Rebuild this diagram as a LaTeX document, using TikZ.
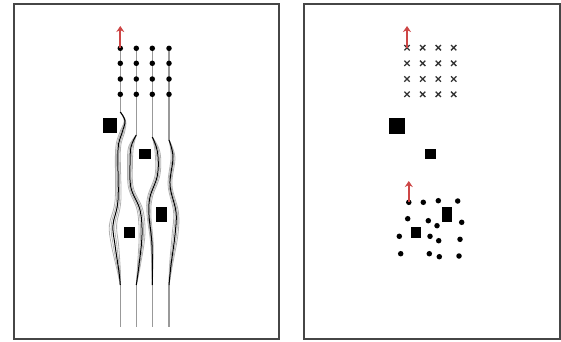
\documentclass[tikz,border=0pt]{standalone}
\usetikzlibrary{arrows.meta,shapes.misc}
\definecolor{arrowred}{RGB}{205,70,70}
\definecolor{framegray}{RGB}{70,70,70}
\tikzset{
  panel/.style={draw=framegray, line width=1.2pt},
  dot/.style={circle, fill=black, inner sep=0pt, minimum size=5.5pt},
  xmark/.style={cross out, draw=black!80, line width=1.3pt, inner sep=0pt, minimum size=4pt},
  obst/.style={rectangle, fill=black, inner sep=0pt},
  startarrow/.style={arrowred, line width=1.8pt, -{Stealth[length=6pt,width=8pt]}},
  track/.style={gray!60, line width=0.8pt},
  rail/.style={gray!80, line width=1.1pt},
}
\begin{document}
\begin{tikzpicture}[x=1pt, y=-1pt]
  \useasboundingbox (0,0) rectangle (561,341);
  % ---------------- left panel: flow through the obstacles ----------------
  \draw[panel] (14,4) rectangle (279,339);
  \foreach \c/\x/\ys in {1/120.3/112, 2/136.3/135, 3/152.3/137, 4/169/140} {
    \coordinate (end-\c) at (\x,327);
    \draw[rail] (\x,48.3) -- (\x,\ys);
    \draw[rail] (\x,285) -- (end-\c);
  }
  \foreach \o in {-2.4,-1.2,1.2,2.4} {
    \draw[track] plot[smooth, tension=0.6] coordinates {(120.3,112) ({125+0.3*\o},121) ({122+\o},133) ({118+\o},150) ({118+1.2*\o},200) ({113+1.5*\o},225) ({115+1.5*\o},245) ({119+0.6*\o},272) (120.3,285)};
    \draw[track] plot[smooth, tension=0.6] coordinates {(136.3,135) ({131+\o},147) ({130+\o},165) ({131+\o},188) ({140+1.2*\o},210) ({142+1.2*\o},235) ({139+0.6*\o},265) (136.3,285)};
    \draw[track] plot[smooth, tension=0.6] coordinates {(152.3,137) ({157.5+\o},152) ({157.5+\o},175) ({150+\o},197) ({149+0.8*\o},215) ({152+0.5*\o},245) (152.3,285)};
    \draw[track] plot[smooth, tension=0.6] coordinates {(169,140) ({173+0.8*\o},157) ({170+0.8*\o},185) ({176+\o},212) ({175+1.2*\o},235) ({171+0.6*\o},265) (169,285)};
  }
  % darkest track of each bundle
  \draw[black, line width=1pt] plot[smooth, tension=0.6] coordinates {(120.3,112) (125,121) (122,133) (118,150) (118,200) (113,225) (115,245) (119,272) (120.3,285)};
  \draw[black, line width=1pt] plot[smooth, tension=0.6] coordinates {(136.3,135) (131,147) (130,165) (131,188) (140,210) (142,235) (139,265) (136.3,285)};
  \draw[black, line width=1pt] plot[smooth, tension=0.6] coordinates {(152.3,137) (157.5,152) (157.5,175) (150,197) (149,215) (152,245) (152.3,285)};
  \draw[black, line width=1pt] plot[smooth, tension=0.6] coordinates {(169,140) (173,157) (170,185) (176,212) (175,235) (171,265) (169,285)};
  % seeds
  \foreach \r/\y in {1/48.3, 2/63.3, 3/79, 4/94.3}
    \foreach \c/\x in {1/120.3, 2/136.3, 3/152.3, 4/169}
      \node[dot] (p-\r-\c) at (\x,\y) {};
  \coordinate (tip-l) at (120.3,26);
  \draw[startarrow] (p-1-1.center) -- (tip-l);
  % obstacles
  \node[obst, minimum width=14.6pt, minimum height=15pt] (ob-a) at (110,125.5) {};
  \node[obst, minimum width=12pt, minimum height=10pt] (ob-b) at (145,154) {};
  \node[obst, minimum width=11pt, minimum height=15pt] (ob-c) at (161.5,214.5) {};
  \node[obst, minimum width=11pt, minimum height=11pt] (ob-d) at (129.5,232.5) {};
  % ---------------- right panel: seeds, obstacles, scattered points ----------------
  \draw[panel] (304,4) rectangle (560,339);
  \foreach \r/\y in {1/47.7, 2/63.3, 3/79, 4/94.3}
    \foreach \c/\x in {1/407, 2/422.7, 3/438.3, 4/453.7}
      \node[xmark] (x-\r-\c) at (\x,\y) {};
  \coordinate (tip-r) at (407,26);
  \draw[startarrow] (x-1-1.center) -- (tip-r);
  \node[obst, minimum width=15.4pt, minimum height=16pt] (ob-e) at (397,126) {};
  \node[obst, minimum width=11.3pt, minimum height=10.3pt] (ob-f) at (430.7,154.2) {};
  \node[obst, minimum width=10.3pt, minimum height=15pt] (ob-g) at (446.8,214.2) {};
  \node[obst, minimum width=10.3pt, minimum height=10.4pt] (ob-h) at (415.8,232.5) {};
  \foreach \i/\x/\y in {1/408.8/202.3, 2/423.3/202.3, 3/438.3/200.7, 4/457.7/201,
                        5/407.7/218.7, 6/428.3/220.7, 7/437/225.7, 8/461.7/222.3,
                        9/399.3/236.3, 10/430/236.3, 11/438.7/240.7, 12/460/239.3,
                        13/400.7/253.7, 14/429.3/253.7, 15/439.3/256.7, 16/459/256}
    \node[dot] (q-\i) at (\x,\y) {};
  \coordinate (tip-b) at (408.8,181);
  \draw[startarrow] (q-1.center) -- (tip-b);
\end{tikzpicture}
\end{document}
